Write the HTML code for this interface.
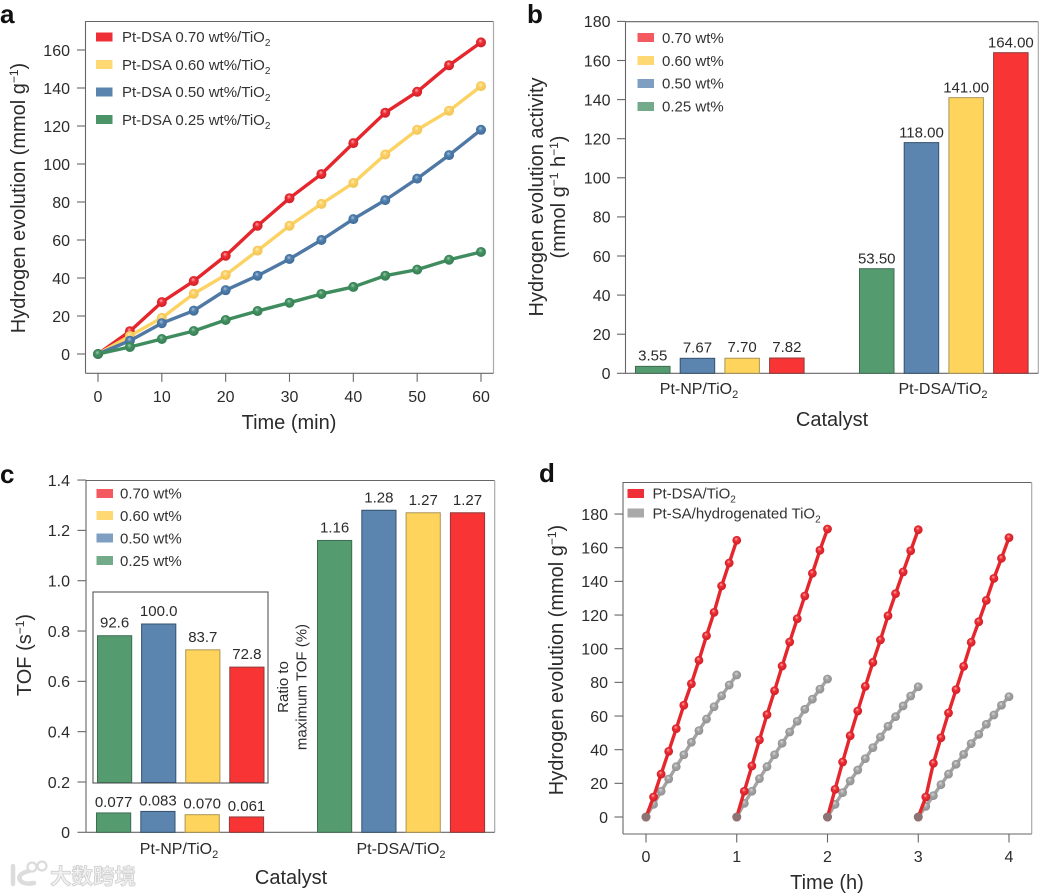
<!DOCTYPE html>
<html lang="en">
<head>
<meta charset="utf-8">
<title>Hydrogen evolution charts</title>
<style>
html,body{margin:0;padding:0;background:#fff;width:1039px;height:894px;overflow:hidden}
svg{display:block}
text{font-family:"Liberation Sans","Noto Sans CJK SC",sans-serif;fill:#2b2b2b}
.tick{font-size:16px}
.title{font-size:20px}
.leg{font-size:15px;fill:#333}
.val{font-size:15px;text-anchor:middle}
.cat{font-size:16px;text-anchor:middle}
.letter{font-size:26px;font-weight:700;fill:#111}
.small{font-size:15px;text-anchor:middle}
</style>
</head>
<body>
<svg id="figure" xmlns="http://www.w3.org/2000/svg" width="1039" height="894" viewBox="0 0 1039 894">
<defs>
<radialGradient id="g-red" cx=".5" cy=".5" fx=".42" fy=".32" r=".6"><stop offset="0" stop-color="#ffb0b0"/><stop offset=".35" stop-color="#ee2f36"/><stop offset="1" stop-color="#c81a22"/></radialGradient>
<radialGradient id="g-yellow" cx=".5" cy=".5" fx=".42" fy=".32" r=".6"><stop offset="0" stop-color="#ffecb5"/><stop offset=".35" stop-color="#fbd269"/><stop offset="1" stop-color="#f0bf4c"/></radialGradient>
<radialGradient id="g-blue" cx=".5" cy=".5" fx=".42" fy=".32" r=".6"><stop offset="0" stop-color="#a9c3de"/><stop offset=".35" stop-color="#5180ae"/><stop offset="1" stop-color="#3b6693"/></radialGradient>
<radialGradient id="g-green" cx=".5" cy=".5" fx=".42" fy=".32" r=".6"><stop offset="0" stop-color="#9fd0b2"/><stop offset=".35" stop-color="#459163"/><stop offset="1" stop-color="#2f7a4e"/></radialGradient>
<radialGradient id="g-gray" cx=".5" cy=".5" fx=".42" fy=".32" r=".6"><stop offset="0" stop-color="#dcdcdc"/><stop offset=".35" stop-color="#a5a5a5"/><stop offset="1" stop-color="#8a8a8a"/></radialGradient>
</defs>

<g id="panel-a"></g>
<g id="panel-b"></g>
<g id="panel-c"></g>
<g id="panel-d"></g>

<text class="letter" x="0" y="23">a</text>
<text class="letter" x="527" y="23">b</text>
<text class="letter" x="0" y="483">c</text>
<text class="letter" x="539" y="482">d</text>

<!-- panel a text -->
<text class="title" transform="translate(25 198) rotate(-90)" text-anchor="middle">Hydrogen evolution (mmol g<tspan font-size="12" dy="-7">−1</tspan><tspan dy="7">)</tspan></text>
<text class="title" x="289" y="429" text-anchor="middle">Time (min)</text>
<rect x="96" y="32.5" width="16.5" height="9" fill="#ee2f36"/>
<rect x="96" y="60" width="16.5" height="9" fill="#fdd873"/>
<rect x="96" y="87.5" width="16.5" height="9" fill="#5a84ae"/>
<rect x="96" y="115" width="16.5" height="9" fill="#4c9367"/>
<text class="leg" x="122" y="42">Pt-DSA 0.70 wt%/TiO<tspan font-size="10" dy="4">2</tspan></text>
<text class="leg" x="122" y="70">Pt-DSA 0.60 wt%/TiO<tspan font-size="10" dy="4">2</tspan></text>
<text class="leg" x="122" y="97">Pt-DSA 0.50 wt%/TiO<tspan font-size="10" dy="4">2</tspan></text>
<text class="leg" x="122" y="125">Pt-DSA 0.25 wt%/TiO<tspan font-size="10" dy="4">2</tspan></text>

<!-- panel b text -->
<text class="title" transform="translate(543 197) rotate(-90)" text-anchor="middle">Hydrogen evolution activity</text>
<text class="title" transform="translate(565 197) rotate(-90)" text-anchor="middle">(mmol g<tspan font-size="12" dy="-7">−1</tspan><tspan dy="7"> h</tspan><tspan font-size="12" dy="-7">−1</tspan><tspan dy="7">)</tspan></text>
<text class="title" x="832" y="426" text-anchor="middle">Catalyst</text>
<text class="cat" x="699" y="394">Pt-NP/TiO<tspan font-size="11" dy="4">2</tspan></text>
<text class="cat" x="943" y="394">Pt-DSA/TiO<tspan font-size="11" dy="4">2</tspan></text>
<rect x="637.5" y="33" width="16.5" height="9" fill="#f4595f"/>
<rect x="637.5" y="56" width="16.5" height="9" fill="#fdd873"/>
<rect x="637.5" y="79" width="16.5" height="9" fill="#7f9fc2"/>
<rect x="637.5" y="102" width="16.5" height="9" fill="#72aa8a"/>
<text class="leg" x="662" y="43">0.70 wt%</text>
<text class="leg" x="662" y="66">0.60 wt%</text>
<text class="leg" x="662" y="88.500">0.50 wt%</text>
<text class="leg" x="662" y="111.500">0.25 wt%</text>

<!-- panel c text -->
<text class="title" transform="translate(31 655) rotate(-90)" text-anchor="middle">TOF (s<tspan font-size="12" dy="-7">−1</tspan><tspan dy="7">)</tspan></text>
<text class="title" x="291" y="884" text-anchor="middle">Catalyst</text>
<text class="cat" x="179" y="854">Pt-NP/TiO<tspan font-size="11" dy="4">2</tspan></text>
<text class="cat" x="401" y="854">Pt-DSA/TiO<tspan font-size="11" dy="4">2</tspan></text>
<rect x="96.500" y="489" width="16.5" height="9" fill="#f4595f"/>
<rect x="96.500" y="511" width="16.5" height="9" fill="#fdd873"/>
<rect x="96.500" y="533.500" width="16.5" height="9" fill="#7f9fc2"/>
<rect x="96.500" y="556" width="16.5" height="9" fill="#72aa8a"/>
<text class="leg" x="120" y="498.500">0.70 wt%</text>
<text class="leg" x="120" y="521">0.60 wt%</text>
<text class="leg" x="120" y="543.500">0.50 wt%</text>
<text class="leg" x="120" y="566">0.25 wt%</text>
<text class="small" transform="translate(288 687) rotate(-90)">Ratio to</text>
<text class="small" transform="translate(306.500 687) rotate(-90)">maximum TOF (%)</text>

<!-- panel d text -->
<text class="title" transform="translate(563 660) rotate(-90)" text-anchor="middle">Hydrogen evolution (mmol g<tspan font-size="12" dy="-7">−1</tspan><tspan dy="7">)</tspan></text>
<text class="title" x="827" y="889" text-anchor="middle">Time (h)</text>
<rect x="627.500" y="489" width="16.5" height="9" fill="#ee2f36"/>
<rect x="627.500" y="508.500" width="16.5" height="9" fill="#a9a9a9"/>
<text class="leg" x="652.500" y="498.500">Pt-DSA/TiO<tspan font-size="10" dy="4">2</tspan></text>
<text class="leg" x="652.500" y="518.500">Pt-SA/hydrogenated TiO<tspan font-size="10" dy="4">2</tspan></text>

<!-- watermark -->
<g>
<path d="M13 866 V884 M29 871 q-12 3 -9 9 q3 5 14 3" fill="none" stroke="#dcdcdc" stroke-width="4.500" stroke-linecap="round"/>
<circle cx="32" cy="867" r="4.500" fill="#fff" stroke="#dcdcdc" stroke-width="2.200"/>
<circle cx="42" cy="866" r="4.500" fill="#fff" stroke="#dcdcdc" stroke-width="2.200"/>
<text x="50" y="884" font-size="21.500" style="fill:#f1f1f1;stroke:#cfcfcf;stroke-width:.8px;font-family:'Noto Sans CJK SC',sans-serif;font-weight:700">大数跨境</text>
</g>
</svg>

<script>
// ---------- Panel a data ----------
const aTimes = [0,5,10,15,20,25,30,35,40,45,50,55,60];
const aRed = [0,12,27.3,38.4,51.7,67.5,82,94.7,111,127,138,152,164];
const aYellow = [0,9.5,19,31.7,41.6,54.4,67.5,79,90,105,118,128,141];
const aBlue = [0,7,16.2,22.8,33.6,41.2,50,60,71,81,92.3,104.7,118];
const aGreen = [0,3.7,7.9,12.1,17.9,22.6,27,31.6,35.3,41.2,44.4,49.6,53.7];
const aXTicks = [0,10,20,30,40,50,60];
const aYTicks = [0,20,40,60,80,100,120,140,160];

// ---------- Panel b data ----------
const bYTicks = [0,20,40,60,80,100,120,140,160,180];
const bNp = [3.55,7.67,7.70,7.82];
const bDsa = [53.50,118.00,141.00,164.00];
const bNpLabels = ['3.55','7.67','7.70','7.82'];
const bDsaLabels = ['53.50','118.00','141.00','164.00'];

// ---------- Panel c data ----------
const cYTicks = [0,0.2,0.4,0.6,0.8,1.0,1.2,1.4];
const cYTickLabels = ['0','0.2','0.4','0.6','0.8','1.0','1.2','1.4'];
const cNp = [0.077,0.083,0.070,0.061];
const cDsa = [1.16,1.28,1.27,1.27];
const cNpLabels = ['0.077','0.083','0.070','0.061'];
const cDsaLabels = ['1.16','1.28','1.27','1.27'];
const insetValues = [92.6,100.0,83.7,72.8];
const insetLabels = ['92.6','100.0','83.7','72.8'];

// ---------- Panel d data ----------
const dXTicks = [0,1,2,3,4];
const dYTicks = [0,20,40,60,80,100,120,140,160,180];
const dStep = 1/12;
const dRedCycles = [
  [0,11.9,25.5,39,52.5,66.4,79.2,93.1,107.7,121.6,137.3,150.9,164.4],
  [0,15.3,30.3,45.8,60.8,75,89.7,104,117.8,131.3,144.8,158.5,171.1],
  [0,16.4,32.7,48.3,63,77.6,91.9,105.2,119.6,132.7,145.6,158.2,170.7],
  [0,11.9,31.9,47.1,61.8,75.7,89.5,103.8,116,128.7,141.8,153.7,166]
];
const dGrayCycles = [
  [0,7.5,15.3,22.6,29.9,37,44.4,51.3,58.2,65.5,72,78.4,84.4],
  [0,8.1,15.3,22.8,29.9,37,43.8,50.5,56.9,64,70,76,82],
  [0,7.5,14.5,21.4,27.9,34.7,41.2,47.5,53.9,59.6,66,71.9,77.4],
  [0,6.3,12.7,19.2,25.5,31.3,37.2,43.6,49.1,55.1,60.6,66.4,71.5]
];

// ---------- Axis functions ----------
const xA = t => 98 + t * 383 / 60;
const yA = v => 354 - v * 1.9;
const yB = v => 373.3 - v * 1.955;
const yC = v => 832.3 - v * 251.6;
const yInset = v => 782.5 - v * 1.585;
const xD = t => 646 + t * 90.75;
const yD = v => 817 - v * 1.683;

const NS = 'http://www.w3.org/2000/svg';
const barFill = ['#549c70','#5b85ae','#ffd45c','#f93434'];
const barEdge = ['#3f6b52','#35526f','#ab9556','#8f3a3a'];
const seriesKey = ['025','050','060','070'];

function make(parent, tag, attrs, txt){
  const e = document.createElementNS(NS, tag);
  for (const k in attrs) e.setAttribute(k, attrs[k]);
  if (txt !== undefined) e.textContent = txt;
  parent.appendChild(e);
  return e;
}

function frame(parent, prefix, l, t, r, b){
  const box = make(parent, 'path', {d:`M${l} ${b}V${t}H${r}`, fill:'none', stroke:'#666', 'stroke-width':1.1});
  
  
  const right = make(parent, 'line', {x1:r, y1:t, x2:r, y2:b, stroke:'#aaa', 'stroke-width':1.2});
  
  
  const bottom = make(parent, 'line', {x1:l, y1:b, x2:r, y2:b, stroke:'#666', 'stroke-width':1.1});
  
  
}

function yAxis(parent, prefix, ticks, labels, yFn, axisX, labelX){
  ticks.forEach((v, i) => {
    const y = yFn(v);
    const tk = make(parent, 'line', {x1:axisX-8.5, y1:y, x2:axisX, y2:y, stroke:'#666', 'stroke-width':1.1});
    
    
    const lb = make(parent, 'text', {class:'tick', x:labelX, y:y+5.8, 'text-anchor':'end'}, labels[i]);
    
    
  });
}

function xAxis(parent, prefix, ticks, xFn, axisY, labelY){
  ticks.forEach(v => {
    const x = xFn(v);
    const tk = make(parent, 'line', {x1:x, y1:axisY, x2:x, y2:axisY+8.5, stroke:'#666', 'stroke-width':1.1});
    
    
    const lb = make(parent, 'text', {class:'tick', x:x, y:labelY, 'text-anchor':'middle'}, String(v));
    
    
  });
}

function series(parent, name, xs, ys, xFn, yFn, color, grad, r, w){
  const pts = xs.map((t, i) => xFn(t).toFixed(2) + ',' + yFn(ys[i]).toFixed(2)).join(' ');
  const line = make(parent, 'polyline', {points:pts, fill:'none', stroke:color, 'stroke-width':w, 'stroke-linejoin':'round'});
  
  
  xs.forEach((t, i) => {
    const c = make(parent, 'circle', {cx:xFn(t), cy:yFn(ys[i]), r:r, fill:`url(#${grad})`});
    
    
  });
}

function bars(parent, prefix, values, labels, yFn, x0, step, width, gap){
  const base = yFn(0);
  values.forEach((v, i) => {
    const x = x0 + i * step;
    const r = make(parent, 'rect', {x:x, y:yFn(v), width:width, height:base-yFn(v), fill:barFill[i], stroke:barEdge[i], 'stroke-width':1});
    
    
    const t = make(parent, 'text', {class:'val', x:x+width/2, y:yFn(v)-gap}, labels[i]);
    
    
  });
}

// ---------- Panel a ----------
const pa = document.getElementById('panel-a');
frame(pa, 'a', 85.5, 21.5, 493.5, 373.3);
yAxis(pa, 'a', aYTicks, aYTicks.map(String), yA, 85.5, 70);
xAxis(pa, 'a', aXTicks, xA, 373.3, 402);
series(pa, 'a-series-070', aTimes, aRed, xA, yA, '#e5262d', 'g-red', 5, 3.4);
series(pa, 'a-series-060', aTimes, aYellow, xA, yA, '#fcd262', 'g-yellow', 5, 3.4);
series(pa, 'a-series-050', aTimes, aBlue, xA, yA, '#4f78a5', 'g-blue', 5, 3.4);
series(pa, 'a-series-025', aTimes, aGreen, xA, yA, '#3f8c5f', 'g-green', 5, 3.4);

// ---------- Panel b ----------
const pb = document.getElementById('panel-b');
frame(pb, 'b', 625.5, 21.7, 1038.3, 373.3);
yAxis(pb, 'b', bYTicks, bYTicks.map(String), yB, 625.5, 610.5);
bars(pb, 'b-pt-np', bNp, bNpLabels, yB, 635.5, 44.7, 34.5, 6);
bars(pb, 'b-pt-dsa', bDsa, bDsaLabels, yB, 859.5, 44.7, 34.5, 5);

// ---------- Panel c ----------
const pc = document.getElementById('panel-c');
frame(pc, 'c', 86, 480.5, 494.7, 832.3);
yAxis(pc, 'c', cYTicks, cYTickLabels, yC, 86, 70);
bars(pc, 'c-pt-np', cNp, cNpLabels, yC, 96.5, 44.3, 34.2, 6);
bars(pc, 'c-pt-dsa', cDsa, cDsaLabels, yC, 317.5, 44.3, 34.2, 8);
const insetBox = make(pc, 'rect', {x:93, y:592, width:175, height:191, fill:'#fff', stroke:'#555', 'stroke-width':1.1});


bars(pc, 'inset', insetValues, insetLabels, yInset, 97.5, 44.1, 34.2, 8);

// ---------- Panel d ----------
const pd = document.getElementById('panel-d');
frame(pd, 'd', 623, 482.5, 1031.7, 834);
yAxis(pd, 'd', dYTicks, dYTicks.map(String), yD, 623, 608);
xAxis(pd, 'd', dXTicks, xD, 834, 862);
dGrayCycles.forEach((cyc, k) => {
  const ts = cyc.map((_, i) => k + i * dStep);
  series(pd, 'd-pt-sa-cycle-' + (k+1), ts, cyc, xD, yD, '#a3a3a3', 'g-gray', 4.4, 3.4);
});
dRedCycles.forEach((cyc, k) => {
  const ts = cyc.map((_, i) => k + i * dStep);
  series(pd, 'd-pt-dsa-cycle-' + (k+1), ts, cyc, xD, yD, '#e5262d', 'g-red', 4.4, 3.4);
  const o = make(pd, 'circle', {cx:xD(k), cy:yD(cyc[0]), r:4.4, fill:'#8d7474'});
  
  
});
</script>
</body>
</html>
